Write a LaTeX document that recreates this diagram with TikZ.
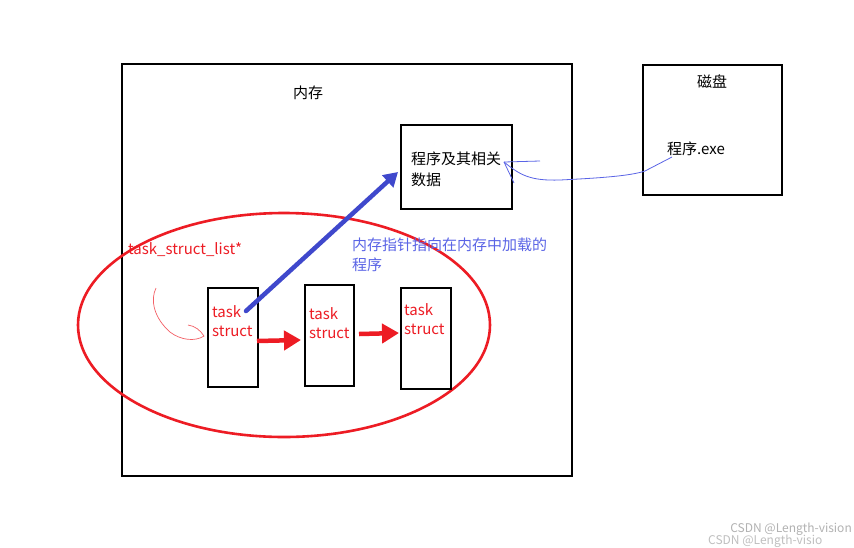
\documentclass[tikz,border=0pt]{standalone}
\usepackage{fontspec}
\setmainfont{Noto Sans CJK SC}
\usetikzlibrary{arrows.meta,shapes.geometric}
\definecolor{myred}{RGB}{237,28,36}
\definecolor{myblue}{RGB}{63,72,204}
\definecolor{lblue}{RGB}{90,100,230}
\begin{document}
\begin{tikzpicture}[x=1pt,y=-1pt,
  box/.style={draw=black,line width=1.6pt},
  tbox/.style={draw=black,line width=1.6pt,minimum width=50pt,minimum height=99pt,anchor=north west},
  redtxt/.style={text=myred,font=\fontsize{15}{19}\selectfont,align=left,anchor=north west,inner sep=0pt},
  fat/.style={line width=4.5pt,-{Triangle[length=14pt,width=16pt]}},
  redfat/.style={line width=4.5pt,-{Triangle[length=17pt,width=19pt]}},
  lbl/.style={font=\fontsize{15}{20}\selectfont,inner sep=0pt}]
\useasboundingbox (0,0) rectangle (854,547);
\fill[white] (0,0) rectangle (854,547);
% memory
\node[box,minimum width=450pt,minimum height=412pt,anchor=north west] (mem) at (121,63) {};
\node[lbl] (memlbl) at (308,93) {内存};
% disk
\node[box,minimum width=139pt,minimum height=130pt,anchor=north west] (disk) at (642,64) {};
\node[lbl] (disklbl) at (712,82) {磁盘};
\node[lbl] (exe) at (696,149) {程序.exe};
% program box
\node[box,minimum width=111pt,minimum height=84pt,anchor=north west] (prog) at (400,124) {};
\node[lbl,align=left,anchor=north west,font=\fontsize{15}{21}\selectfont] (progtxt) at (411,152) {程序及其相关\\数据};
% ellipse
\node[draw=myred,line width=2.6pt,ellipse,minimum width=412pt,minimum height=224pt] (ell) at (284,325) {};
% label
\node[redtxt] (lst) at (128,242) {task\_struct\_list*};
% task boxes
\node[tbox] (t1) at (207,287) {};
\node[tbox,minimum width=49pt,minimum height=101pt] (t2) at (304,284) {};
\node[tbox,minimum height=101pt] (t3) at (400,287) {};
\node[redtxt] (t1t) at (212,305) {task\\struct};
\node[redtxt] (t2t) at (309,307) {task\\struct};
\node[redtxt] (t3t) at (404,303) {task\\struct};
% red arrows
\coordinate (a1s) at (257,341); \coordinate (a1e) at (301,340);
\coordinate (a2s) at (359,334); \coordinate (a2e) at (399,333);
\draw[myred,redfat] (a1s) -- (a1e);
\draw[myred,redfat] (a2s) -- (a2e);
% blue arrow
\coordinate (bs) at (246,311); \coordinate (be) at (398,172);
\draw[myblue,fat,line cap=round] (bs) -- (be);
\node[lbl,text=lblue,align=left,anchor=north west] (btxt) at (352,238) {内存指针指向在内存中加载的\\程序};
% hand-drawn red curve
\draw[myred!70,line width=0.7pt] (156,288) .. controls (150,300) and (154,318) .. (170,332) .. controls (180,340) and (195,342) .. (204,336) .. controls (200,330) and (195,326) .. (188,325);
% hand-drawn blue lines
\coordinate (bj) at (504,162);
\draw[lblue,line width=0.8pt] (bj) -- (540,161);
\draw[lblue,line width=0.8pt] (bj) -- (514,183);
\draw[lblue,line width=0.8pt] (bj) .. controls (520,175) and (530,181) .. (560,180) .. controls (600,178) and (630,176) .. (645,171) -- (672,157);
% watermark
\node[text=black!30,font=\fontsize{12}{12}\selectfont,anchor=east,inner sep=0pt] (wm1) at (852,529) {CSDN @Length-vision};
\node[text=black!25,font=\fontsize{12}{12}\selectfont,anchor=west,inner sep=0pt] (wm2) at (708,541) {CSDN @Length-visio};
\end{tikzpicture}
\end{document}
